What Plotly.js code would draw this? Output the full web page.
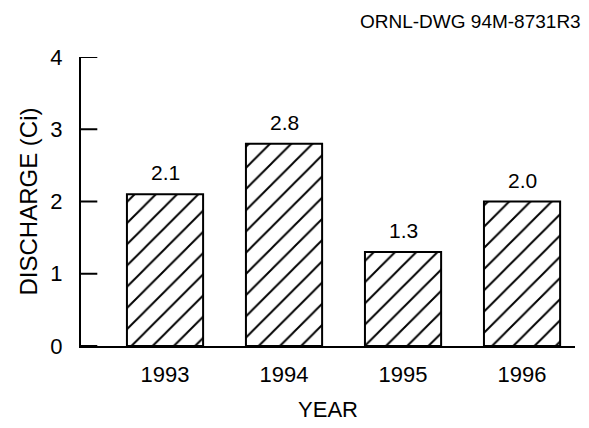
<!DOCTYPE html>
<html>
<head>
<meta charset="utf-8">
<script src="https://cdn.plot.ly/plotly-3.0.1.min.js"></script>
<style>html,body{margin:0;padding:0;background:#fff;}#chart{width:589px;height:428px;}</style>
</head>
<body>
<div id="chart"></div>
<script>
const years = ['1993', '1994', '1995', '1996'];
const discharge = [2.1, 2.8, 1.3, 2.0];
const valueLabels = ['2.1', '2.8', '1.3', '2.0'];
const yTicks = [0, 1, 2, 3, 4];
const FONT = 'Liberation Sans, Arial, sans-serif';

const trace = {
  type: 'bar',
  x: years,
  y: discharge,
  width: 0.64,
  marker: {
    color: 'white',
    line: {color: 'black', width: 2},
    pattern: {shape: '/', fgcolor: 'black', bgcolor: 'white', size: 15, solidity: 0.13, fillmode: 'replace'}
  },
  hoverinfo: 'none'
};

const annotations = years.map((yr, i) => ({
  x: i, y: discharge[i], text: valueLabels[i], showarrow: false,
  xref: 'x', yref: 'y', yanchor: 'bottom', yshift: 8,
  font: {family: FONT, size: 21, color: 'black'}
}));
annotations.push({
  xref: 'paper', yref: 'paper', x: 1.017, y: 1.08, xanchor: 'right', yanchor: 'bottom',
  text: 'ORNL-DWG 94M-8731R3', showarrow: false,
  font: {family: FONT, size: 19, color: 'black'}
});

// inward tick marks on the y axis, one per tick value
const tickShapes = yTicks.map(v => ({
  type: 'line', xref: 'paper', yref: 'y', x0: 0, x1: 0.033, y0: v, y1: v,
  line: {color: 'black', width: 2}
}));

const layout = {
  width: 589, height: 428,
  margin: {l: 81, r: 14, t: 57, b: 82},
  paper_bgcolor: 'white', plot_bgcolor: 'white',
  showlegend: false,
  font: {family: FONT, size: 22, color: 'black'},
  xaxis: {
    type: 'category', range: [-0.706, 3.445],
    showline: true, linecolor: 'black', linewidth: 2,
    ticks: '', showgrid: false, zeroline: false,
    ticklabelstandoff: 8,
    tickfont: {family: FONT, size: 22, color: 'black'},
    title: {text: 'YEAR', font: {family: FONT, size: 22, color: 'black'}, standoff: 15}
  },
  yaxis: {
    range: [0, 4], tickvals: yTicks, ticktext: yTicks.map(String),
    showline: true, linecolor: 'black', linewidth: 2,
    ticks: '', showgrid: false, zeroline: false,
    ticklabelstandoff: 12,
    tickfont: {family: FONT, size: 22, color: 'black'},
    title: {text: 'DISCHARGE (Ci)', font: {family: FONT, size: 24, color: 'black'}, standoff: 6}
  },
  shapes: tickShapes,
  annotations: annotations
};

Plotly.newPlot('chart', [trace], layout, {staticPlot: true, displayModeBar: false});
</script>
</body>
</html>
